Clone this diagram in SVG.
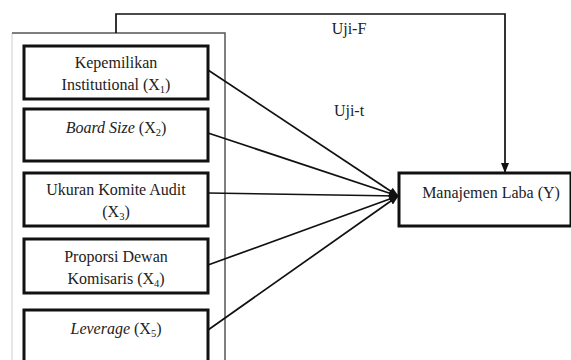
<svg xmlns="http://www.w3.org/2000/svg" width="571" height="360" viewBox="0 0 571 360">
<style>
.box{fill:#fff;stroke:#111;stroke-width:3}
.t{font-family:'Liberation Serif','DejaVu Serif',serif;font-size:16px;fill:#222;text-anchor:middle}
.sub{font-size:10.5px}
.c{fill:none;stroke:#111;stroke-width:1.7}
</style>
<defs>
<marker id="ah" markerWidth="10" markerHeight="10" refX="9" refY="5" orient="auto" markerUnits="userSpaceOnUse">
<path d="M0,1 L10,5 L0,9 Z" fill="#111"/>
</marker>
</defs>
<rect width="571" height="360" fill="#fff"/>
<g id="frame">
<line x1="12" y1="33" x2="12" y2="360" stroke="#ccc" stroke-width="1"/>
<polyline points="12,33 225,33 225,360" fill="none" stroke="#555" stroke-width="1.5"/>
</g>
<g id="connectors">
<polyline class="c" points="116,33 116,14 505,14 505,172" marker-end="url(#ah)" stroke="#444"/>
<line class="c" x1="208" y1="70" x2="398" y2="196" marker-end="url(#ah)"/>
<line class="c" x1="208" y1="133" x2="398" y2="196" marker-end="url(#ah)" stroke-width="2.3"/>
<line class="c" x1="208" y1="193" x2="398" y2="196" marker-end="url(#ah)"/>
<line class="c" x1="208" y1="265" x2="398" y2="196" marker-end="url(#ah)"/>
<line class="c" x1="208" y1="330" x2="398" y2="196" marker-end="url(#ah)"/>
</g>
<g id="labels">
<text class="t" x="349" y="34">Uji-F</text>
<text class="t" x="349" y="116">Uji-t</text>
</g>
<g id="x1">
<rect class="box" x="24" y="46" width="184" height="53"/>
<text class="t" x="116" y="68">Kepemilikan</text>
<text class="t" x="116" y="90">Institutional (X<tspan class="sub" dy="3">1</tspan><tspan dy="-3">)</tspan></text>
</g>
<g id="x2">
<rect class="box" x="24" y="109" width="184" height="52"/>
<text class="t" x="116" y="133"><tspan font-style="italic">Board Size</tspan> (X<tspan class="sub" dy="3">2</tspan><tspan dy="-3">)</tspan></text>
</g>
<g id="x3">
<rect class="box" x="24" y="173" width="184" height="53"/>
<text class="t" x="116" y="195">Ukuran Komite Audit</text>
<text class="t" x="116" y="217">(X<tspan class="sub" dy="3">3</tspan><tspan dy="-3">)</tspan></text>
</g>
<g id="x4">
<rect class="box" x="24" y="239" width="184" height="54"/>
<text class="t" x="116" y="262">Proporsi Dewan</text>
<text class="t" x="116" y="284">Komisaris (X<tspan class="sub" dy="3">4</tspan><tspan dy="-3">)</tspan></text>
</g>
<g id="x5">
<rect class="box" x="24" y="310" width="184" height="60"/>
<text class="t" x="116" y="334"><tspan font-style="italic">Leverage</tspan> (X<tspan class="sub" dy="3">5</tspan><tspan dy="-3">)</tspan></text>
</g>
<g id="y">
<rect class="box" x="399" y="173" width="172" height="53"/>
<text class="t" x="491" y="198">Manajemen Laba (Y)</text>
</g>
</svg>
